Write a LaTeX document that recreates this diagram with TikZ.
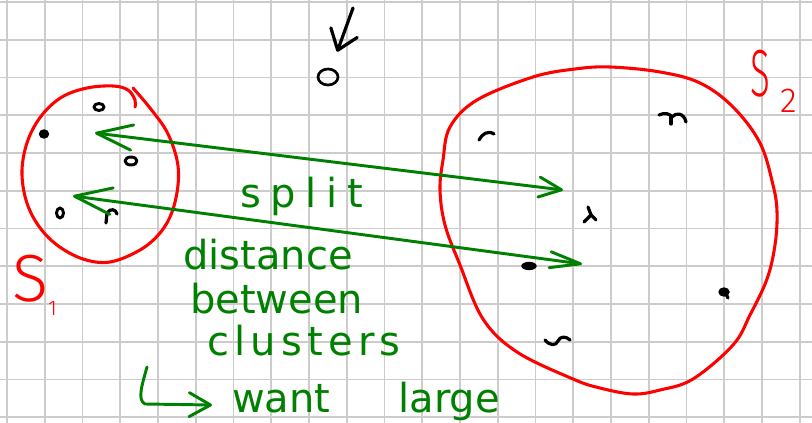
\documentclass[tikz,border=0pt]{standalone}
\usepackage{fontspec}
\setmainfont{DejaVu Sans}
\newfontfamily\thinfont{Fira Sans Light}
\usepackage{xcolor}
\usepackage{tikz}
\usetikzlibrary{arrows.meta, positioning, shapes, calc}
\definecolor{inkgreen}{RGB}{0,128,0}

\begin{document}
\begin{tikzpicture}[
            x=0.75pt, y=-0.75pt,
            gridline/.style={draw=gray!40, line width=1.4pt},
            cluster/.style={draw=red, line width=2.3pt, line cap=round, line join=round},
            clusterlabel/.style={text=red, font=\thinfont\fontsize{50}{50}\selectfont, anchor=base west, inner sep=0pt},
            note/.style={text=inkgreen, font=\fontsize{30}{36}\selectfont, anchor=base west, inner sep=0pt},
            pen/.style={draw=inkgreen, line width=2.2pt, line cap=round, line join=round},
            datum/.style={draw=black, line width=2.4pt, line cap=round, line join=round},
            blob/.style={fill=black, draw=black, line width=1pt}
        ]

% Paper
            \fill[white] (0,0) rectangle (812,423);
            \useasboundingbox (0,0) rectangle (812,423);
            \foreach \gx in {0,...,21}
                \draw[gridline] ({7+37.75*\gx},0) -- ({7+37.75*\gx},423);
            \foreach \gy in {0,...,11}
                \draw[gridline] (0,{2+37.75*\gy}) -- (812,{2+37.75*\gy});

% Clusters
            \draw[cluster] plot[smooth, tension=0.6] coordinates {(133,88) (150,108) (167,132) (177,160) (178,185) (172,212) (160,233) (140,250) (110,262) (83,259) (57,245) (38,225) (26,200) (22,170) (28,140) (42,115) (62,97) (87,88) (113,86) (128,90) (135,100) (135,107)};
            \draw[cluster] plot[smooth cycle, tension=0.6] coordinates {(610,67) (660,72) (700,83) (733,107) (760,143) (773,185) (777,212) (775,245) (767,279) (750,315) (733,345) (693,379) (660,390) (633,394) (600,388) (573,379) (517,352) (483,319) (460,265) (445,225) (440,190) (443,160) (450,127) (477,100) (533,77) (575,69)};
            \node[clusterlabel] (sone) at (12,302) {S\hspace{0pt}\raisebox{-10pt}{\fontsize{16}{16}\selectfont 1}};
            \node[clusterlabel] (stwo) at (750,97) {\scalebox{0.55}[1]{S}\hspace{8pt}\raisebox{-12pt}{\fontsize{26}{26}\selectfont 2}};

% Points
            \draw[datum, line width=2.2pt] (99,107) ellipse [x radius=5, y radius=3.5];
            \draw[blob] (44,134) ellipse [x radius=4.5, y radius=4];
            \draw[datum, line width=2.2pt] (131,161) ellipse [x radius=6, y radius=4];
            \draw[datum, line width=2.2pt] (60,213) ellipse [x radius=3.5, y radius=5];
            \draw[datum] (106,223) -- (107,213) .. controls (110,208) and (116,209) .. (117,214);
            \node[draw, ellipse, line width=2pt, minimum width=15pt, minimum height=12pt, inner sep=0pt] (outlier) at (328,77) {};
            \draw[datum] (479,140) .. controls (482,134) and (488,130) .. (494,134);
            \draw[datum] (659,115) .. controls (665,112) and (670,114) .. (672,117) .. controls (676,112) and (684,113) .. (686,122);
            \draw[datum] (671,117) -- (671,124);
            \draw[datum] (588,207) -- (591,215);
            \draw[datum] (584,222) -- (591,215) -- (596,220);
            \draw[blob] (529,266) ellipse [x radius=7, y radius=3.5];
            \draw[blob] (724,292) ellipse [x radius=5, y radius=4];
            \draw[datum] (726,294) -- (728,298);
            \draw[datum] (545,340) .. controls (550,346) and (556,346) .. (558,341) .. controls (560,336) and (566,336) .. (570,340);

% Arrows
            \coordinate (pointer) at (353,8);
            \draw[datum, -{Straight Barb[length=14pt, width=21pt, round]}, shorten >=13pt] (pointer) -- (outlier);
            \coordinate (splitL) at (95,133);
            \coordinate (splitR) at (563,190);
            \draw[pen, {Straight Barb[length=27pt, width=19pt, round]}-{Straight Barb[length=17pt, width=15pt, round]}] (splitL) -- (splitR);
            \coordinate (gapL) at (73,196);
            \coordinate (gapR) at (582,264);
            \draw[pen, {Straight Barb[length=28pt, width=20pt, round]}-{Straight Barb[length=23pt, width=12pt, round]}] (gapL) -- (gapR);

% Notes
            \node[note] (split) at (240,208) {\addfontfeature{LetterSpace=24}split};
            \node[note] (distance) at (183,270) {distance};
            \node[note] (between) at (190,314) {between};
            \node[note] (clusters) at (207,355) {\addfontfeature{LetterSpace=13}clusters};
            \node[note] (want) at (232,412) {want\hspace{51pt}large};
            \coordinate (hookstart) at (147,367);
            \coordinate (hookend) at (212,405);
            \draw[pen, -{Straight Barb[length=16pt, width=18pt, round]}] (hookstart) .. controls (142,385) and (137,400) .. (145,404) -- (hookend);

        \end{tikzpicture}
\end{document}
